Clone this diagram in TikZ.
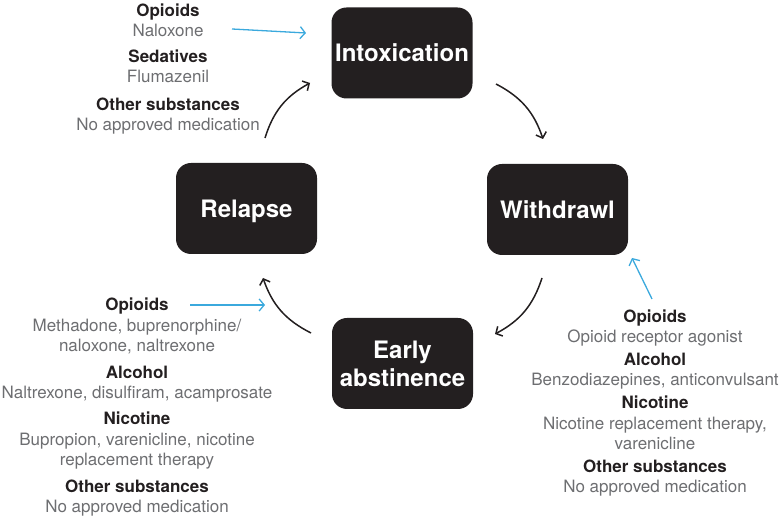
\documentclass[tikz,border=0pt]{standalone}
\usepackage{fontspec}
\setmainfont{TeX Gyre Heros}
\usetikzlibrary{arrows.meta}
\definecolor{boxdark}{HTML}{231F20}
\definecolor{itemgray}{HTML}{6D6E71}
\definecolor{arrowblue}{HTML}{3BA9DD}
\tikzset{
  phase/.style={fill=boxdark,text=white,rounded corners=15pt,minimum width=141pt,minimum height=91pt,
    inner sep=0pt,align=center,text depth=0pt,font=\fontsize{24}{28}\selectfont\bfseries},
  drug/.style={align=center,anchor=base,inner sep=0pt,text=itemgray,font=\fontsize{17}{20.5}\selectfont},
  cycle/.style={draw=boxdark,line width=1.5pt,-{Straight Barb[length=5pt,width=11pt,line width=1.5pt]}},
  treat/.style={draw=arrowblue,line width=1.3pt,-{Straight Barb[length=5pt,width=12pt,line width=1.3pt]}}
}
\newcommand{\subst}[1]{{\bfseries\color{boxdark}#1}}
\begin{document}
\begin{tikzpicture}[x=1pt,y=-1pt]
      \useasboundingbox (0,0) rectangle (780,518);
      % phases
      \node[phase] (intox) at (402,53) {Intoxication};
      \node[phase] (withdr) at (557.5,209.5) {Withdrawl};
      \node[phase] (early) at (402.5,363.5) {Early\\abstinence};
      \node[phase] (relapse) at (246.5,208.5) {Relapse};
      % medications (placed at baseline of last line)
      \node[drug] (intoxA) at (168,37) {\subst{Opioids}\\Naloxone};
      \node[drug] (intoxB) at (168,83) {\subst{Sedatives}\\Flumazenil};
      \node[drug] (intoxC) at (168,131) {\subst{Other substances}\\No approved medication};
      \node[drug] (withdrA) at (655,343) {\subst{Opioids}\\Opioid receptor agonist};
      \node[drug] (withdrB) at (655,386) {\subst{Alcohol}\\Benzodiazepines, anticonvulsant};
      \node[drug] (withdrC) at (655,450) {\subst{Nicotine}\\Nicotine replacement therapy,\\varenicline};
      \node[drug] (withdrD) at (655,493) {\subst{Other substances}\\No approved medication};
      \node[drug] (earlyA) at (137,352) {\subst{Opioids}\\Methadone, buprenorphine/\\naloxone, naltrexone};
      \node[drug] (earlyB) at (137,399) {\subst{Alcohol}\\Naltrexone, disulfiram, acamprosate};
      \node[drug] (earlyC) at (137,466) {\subst{Nicotine}\\Bupropion, varenicline, nicotine\\replacement therapy};
      \node[drug] (earlyD) at (137,513) {\subst{Other substances}\\No approved medication};
      % arrow ends
      \coordinate (r1) at (265,138); \coordinate (i1) at (310,83);
      \coordinate (i2) at (496,84); \coordinate (w1) at (543,139);
      \coordinate (w2) at (542,278); \coordinate (e1) at (495,334);
      \coordinate (e2) at (311,333); \coordinate (r2) at (263,278);
      \coordinate (tA) at (232,29); \coordinate (tB) at (306,33);
      \coordinate (tC) at (652,299); \coordinate (tD) at (632,258);
      \coordinate (tE) at (190,305); \coordinate (tF) at (265,305);
      \draw[cycle] (r1) to[bend left=22] (i1);
      \draw[cycle] (i2) to[bend left=22] (w1);
      \draw[cycle] (w2) to[bend left=22] (e1);
      \draw[cycle] (e2) to[bend left=22] (r2);
      \draw[treat] (tA) -- (tB);
      \draw[treat] (tC) -- (tD);
      \draw[treat] (tE) -- (tF);
\end{tikzpicture}
\end{document}
